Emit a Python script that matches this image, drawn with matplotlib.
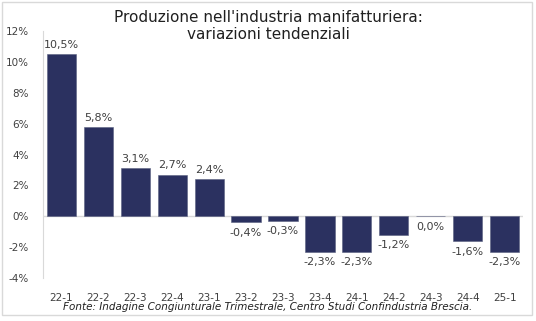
import matplotlib.pyplot as plt
from matplotlib.patches import Rectangle

# quarters and year-on-year change (%)
periods = ['22-1', '22-2', '22-3', '22-4', '23-1', '23-2', '23-3',
           '23-4', '24-1', '24-2', '24-3', '24-4', '25-1']
values = [10.5, 5.8, 3.1, 2.7, 2.4, -0.4, -0.3, -2.3, -2.3, -1.2, 0.0, -1.6, -2.3]

bar_color = '#2b3160'
text_color = '#404040'

fig = plt.figure(figsize=(5.36, 3.21), dpi=100)
# card border
fig.patches.append(Rectangle((0.004, 0.02), 0.988, 0.975, transform=fig.transFigure,
                             fill=False, edgecolor='#d9d9d9', lw=1.0))

ax = fig.add_axes([0.080, 0.134, 0.896, 0.769])
x = range(len(periods))
ax.bar(x, values, width=0.79, color=bar_color, edgecolor='#5a6080', linewidth=0.4, zorder=2)

for i, v in enumerate(values):
    lab = f'{v:.1f}%'.replace('.', ',')
    if v > 0:
        ax.annotate(lab, (i, v), xytext=(0, 3), textcoords='offset points',
                    ha='center', va='bottom', fontsize=8, color=text_color)
    else:
        ax.annotate(lab, (i, v), xytext=(0, -4), textcoords='offset points',
                    ha='center', va='top', fontsize=8, color=text_color)

ax.set_xlim(-0.5, len(periods) - 0.5)
ax.set_ylim(-4, 12)
ax.set_yticks(range(-4, 13, 2))
ax.set_yticklabels([f'{t}%' for t in range(-4, 13, 2)])
ax.set_xticks(list(x))
ax.set_xticklabels(periods)
ax.tick_params(axis='both', length=0, labelsize=7.5, colors=text_color)
ax.tick_params(axis='x', pad=11)
ax.tick_params(axis='y', pad=10)

ax.axhline(0, color='#d9d9d9', lw=1, zorder=1)
for s in ['top', 'right', 'bottom']:
    ax.spines[s].set_visible(False)
ax.spines['left'].set_color('#d9d9d9')

fig.text(0.5, 0.968, "Produzione nell'industria manifatturiera:\nvariazioni tendenziali",
         ha='center', va='top', fontsize=11, color='#202020', linespacing=1.15)
fig.text(0.5, 0.043, 'Fonte: Indagine Congiunturale Trimestrale, Centro Studi Confindustria Brescia.',
         ha='center', va='center', fontsize=7.5, style='italic', color='#202020')

fig.savefig('out.png', dpi=100)
